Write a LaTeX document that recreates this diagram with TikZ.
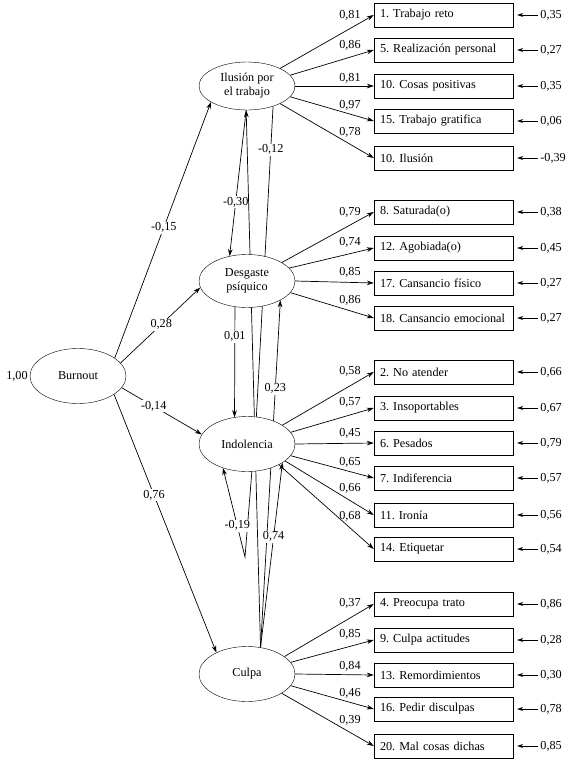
\documentclass[tikz,border=0pt]{standalone}
\usepackage{fontspec}
\setmainfont{Liberation Serif}
\usepackage{tikz}
\usetikzlibrary{arrows.meta,positioning,shapes.geometric,backgrounds}

\begin{document}
\frenchspacing
\begin{tikzpicture}[x=1pt, y=-1pt, font=\fontsize{12.2}{14}\selectfont, every node/.style={inner sep=1pt}]
        \tikzset{
            lat/.style={draw, ellipse, fill=white, align=center, minimum width=96pt, minimum height=55pt, inner sep=0pt},
            obs/.style={draw, fill=white, align=left, text width=127pt, inner xsep=6pt, inner ysep=0pt, minimum height=24pt},
            arr/.style={-{Stealth[length=7pt,width=4.6pt]}, line width=0.7pt},
            earr/.style={-{Stealth[length=6pt,width=4pt]}, line width=0.7pt, shorten >=4pt, shorten <=1pt},
            coef/.style={fill=white, inner sep=1pt}
        }
        \useasboundingbox (0,0) rectangle (568,761);

        % Latent factors
        \node[lat] (burn) at (78,376) {Burnout};
        \node[lat, minimum height=48pt] (ilu) at (247,86) {Ilusión por\\el trabajo};
        \node[lat, minimum height=53pt] (des) at (247,281) {Desgaste\\psíquico};
        \node[lat] (ind) at (247,444) {Indolencia};
        \node[lat] (cul) at (247,674) {Culpa};
        \node[left=1pt of burn] (burnvar) {1,00};

        % Items: factor / y / anchor angle / text / loading / loading y / error
        \foreach \f/\yy/\ang/\txt/\ld/\ly/\er [count=\i] in {
            ilu/15/28/{1. Trabajo reto}/{0,81}/15/{0,35},
            ilu/50/14/{5. Realización personal}/{0,86}/45/{0,27},
            ilu/86/0/{10. Cosas positivas}/{0,81}/78/{0,35},
            ilu/121/-14/{15. Trabajo gratifica}/{0,97}/105/{0,06},
            ilu/158/-28/{10. Ilusión}/{0,78}/132/{-0,39},
            des/212/28/{8. Saturada(o)}/{0,79}/212/{0,38},
            des/248/17/{12. Agobiada(o)}/{0,74}/242/{0,45},
            des/283/0/{17. Cansancio físico}/{0,85}/272/{0,27},
            des/318/-15/{18. Cansancio emocional}/{0,86}/300/{0,27},
            ind/372/28/{2. No atender}/{0,58}/371/{0,66},
            ind/408/15/{3. Insoportables}/{0,57}/402/{0,67},
            ind/443/0/{6. Pesados}/{0,45}/433/{0,79},
            ind/478/-15/{7. Indiferencia}/{0,65}/462/{0,57},
            ind/515/-24/{11. Ironía}/{0,66}/488/{0,56},
            ind/549/-33/{14. Etiquetar}/{0,68}/516/{0,54},
            cul/604/25/{4. Preocupa trato}/{0,37}/603/{0,86},
            cul/640/15/{9. Culpa actitudes}/{0,85}/634/{0,28},
            cul/675/0/{13. Remordimientos}/{0,84}/666/{0,30},
            cul/709/-15/{16. Pedir disculpas}/{0,46}/693/{0,78},
            cul/746/-29/{20. Mal cosas dichas}/{0,39}/720/{0,85}}{
            \node[obs] (box\i) at (443.5,\yy) {\mbox{\txt}};
            \node[right=26pt of box\i] (err\i) {\er};
            \node (load\i) at (350,\ly) {\ld};
            \draw[arr] (\f.\ang) -- (box\i.west);
            \draw[earr] (err\i) -- (box\i);
        }

        % Structural paths (behind the ellipses)
        \coordinate (vtip) at (245,557);
        \begin{pgfonlayer}{background}
            \draw[arr] (burn.26) -- node[coef, pos=0.51] {-0,15} (ilu.-156);
            \draw[arr] (burn.17) -- node[coef, pos=0.51] {0,28} (des.188);
            \draw[arr] (burn.-15) -- node[coef, pos=0.4] {-0,14} (ind.168);
            \draw[arr] (burn.-27) -- node[coef, pos=0.39] {0,76} (cul.145);
            \draw[arr] (ilu.-92) -- node[coef, pos=0.63] {-0,30} (des.125);
            \draw[arr, {Stealth[length=7pt,width=4.6pt]}-] (ilu.-92) -- (cul.63);
            \draw[line width=0.7pt] (ilu.-38) -- node[coef, pos=0.14] {-0,12} (ind.71);
            \draw[arr] (des.-115) -- node[coef, pos=0.27] {0,01} (ind.115);
            \draw[arr] (cul.63) -- node[coef, pos=0.745] {0,23} (des.-30);
            \draw[arr] (ind.-80) -- (vtip) -- node[coef, pos=0.35] {-0,19} (ind.-135);
            \draw[arr] (cul.63) -- node[coef, pos=0.6] {0,74} (ind.-28);
        \end{pgfonlayer}
    \end{tikzpicture}
\end{document}
